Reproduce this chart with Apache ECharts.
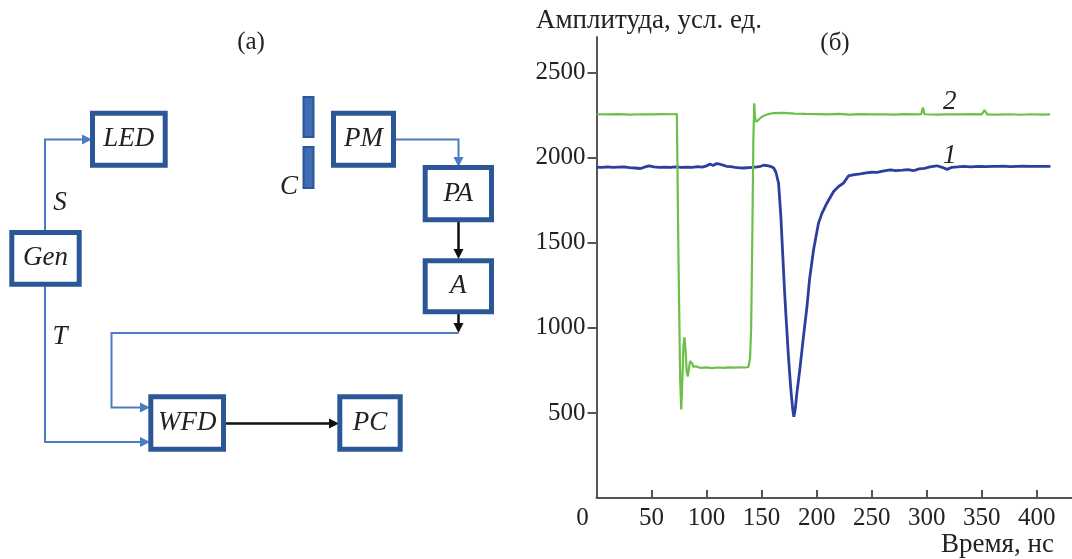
<!DOCTYPE html>
<html>
<head>
<meta charset="utf-8">
<script src="https://cdn.jsdelivr.net/npm/echarts@6/dist/echarts.min.js"></script>
<style>
  html, body { margin: 0; padding: 0; background: #fff; }
  #chart { width: 1072px; height: 559px; }
</style>
</head>
<body>
<div id="chart"></div>
<script>
// curve 1 (blue): time, ns / amplitude
const blueTime = [0, 5, 10, 15, 20, 25, 30, 35, 40, 45, 48, 52, 57, 62, 67, 72, 77, 82, 87, 92, 96, 100, 103, 106, 109, 112, 115, 118, 122, 126, 130, 134, 138, 142, 146, 149, 152, 155, 158, 161, 163, 165.4, 167.5, 169, 170.8, 172, 174.4, 176.6, 178.3, 179.3, 180.5, 182, 185, 188, 191.2, 193.5, 197.2, 201.7, 204.8, 209.3, 215.4, 219.9, 224.4, 229, 233, 239.6, 245, 250, 255, 260, 267, 272, 278, 283, 288, 293, 298, 303, 306, 309.4, 314, 318.5, 323, 328, 333.6, 340, 347, 354, 360, 364, 370, 376, 382, 388, 394, 400, 406, 412.4]
const blueAmp = [1945, 1944, 1946, 1943, 1945, 1947, 1942, 1940, 1937, 1948, 1953, 1947, 1944, 1945, 1943, 1946, 1944, 1945, 1943, 1948, 1945, 1952, 1963, 1955, 1966, 1962, 1957, 1950, 1948, 1944, 1941, 1940, 1942, 1944, 1946, 1950, 1956, 1954, 1950, 1940, 1915, 1851, 1655, 1457, 1224, 1086, 829, 635, 520, 478, 520, 614, 771, 947, 1124, 1282, 1459, 1616, 1673, 1733, 1802, 1831, 1851, 1894, 1900, 1906, 1911, 1915, 1914, 1922, 1929, 1925, 1927, 1930, 1924, 1935, 1938, 1946, 1950, 1953, 1944, 1932, 1944, 1946, 1949, 1947, 1950, 1948, 1950, 1949, 1951, 1948, 1950, 1951, 1949, 1950, 1949, 1950]

// curve 2 (green)
const greenTime = [0, 10, 20, 30, 40, 50, 60, 70, 73, 74.5, 76, 77, 78, 79, 80, 81, 82, 83, 84, 85, 86, 87, 88, 90, 93, 95, 100, 105, 110, 115, 120, 125, 130, 135, 138, 139.5, 140.5, 141.5, 142.5, 143.3, 144, 145, 147, 150, 153, 157, 160, 170, 180, 190, 200, 210, 220, 230, 240, 250, 260, 270, 280, 290, 295, 296.5, 298, 310, 320, 330, 340, 350, 352.5, 355, 365, 375, 385, 395, 405, 412]
const greenAmp = [2256, 2255, 2257, 2254, 2256, 2255, 2257, 2256, 2258, 1400, 700, 520, 700, 900, 945, 860, 740, 715, 760, 805, 812, 790, 770, 775, 768, 765, 768, 764, 767, 765, 768, 766, 768, 767, 770, 820, 1000, 1500, 2100, 2320, 2240, 2212, 2222, 2240, 2250, 2258, 2262, 2264, 2260, 2258, 2257, 2255, 2258, 2254, 2257, 2255, 2256, 2254, 2257, 2255, 2256, 2295, 2256, 2254, 2256, 2255, 2257, 2255, 2280, 2255, 2254, 2256, 2253, 2256, 2254, 2255]

const curveNames = ['1', '2']
const curveLabelAt = [[321, 2010], [321, 2330]]

const serif = '"Liberation Serif", "DejaVu Serif", serif'
const BOX = '#2b5797'
const LINK = '#4a7cc4'
const INK = '#111'

function box(x, y, w, h, label) {
  return [
    { type: 'rect', shape: { x, y, width: w, height: h }, style: { fill: '#fff', stroke: BOX, lineWidth: 5 } },
    { type: 'text', style: { text: label, x: x + w / 2, y: y + h / 2, font: 'italic 27px ' + serif, fill: '#222', align: 'center', verticalAlign: 'middle' } }
  ]
}

// polyline ending in an arrow head
function wire(pts, color, width) {
  const n = pts.length
  const [x1, y1] = pts[n - 2]
  const [x2, y2] = pts[n - 1]
  const len = Math.hypot(x2 - x1, y2 - y1)
  const dx = (x2 - x1) / len
  const dy = (y2 - y1) / len
  const hl = 10
  const hw = 5
  const bx = x2 - dx * hl
  const by = y2 - dy * hl
  const line = pts.slice(0, n - 1).concat([[bx, by]])
  return [
    { type: 'polyline', shape: { points: line }, style: { stroke: color, lineWidth: width, fill: null } },
    { type: 'polygon', shape: { points: [[x2, y2], [bx - dy * hw, by + dx * hw], [bx + dy * hw, by - dx * hw]] }, style: { fill: color } }
  ]
}

function label(text, x, y, size, italic, align) {
  return {
    type: 'text',
    style: { text, x, y, font: (italic ? 'italic ' : '') + size + 'px ' + serif, fill: '#222', align: align || 'center', verticalAlign: 'middle' }
  }
}

const diagram = [].concat(
  wire([[45, 232], [45, 139.5], [92, 139.5]], LINK, 2),
  wire([[45, 285], [45, 442], [150, 442]], LINK, 2),
  wire([[394, 139.5], [458.5, 139.5], [458.5, 167]], LINK, 2),
  wire([[458.5, 220], [458.5, 259]], INK, 2.5),
  wire([[458.5, 312], [458.5, 333]], INK, 2.5),
  wire([[458.5, 333], [111.5, 333], [111.5, 407.5], [150, 407.5]], LINK, 2),
  wire([[224, 423.5], [339, 423.5]], INK, 2.5),
  box(92.5, 113.2, 72.7, 52, 'LED'),
  box(11.8, 232.5, 67.4, 51.7, 'Gen'),
  box(333.5, 113.2, 60, 52, 'PM'),
  box(425.2, 167.5, 66.3, 52.3, 'PA'),
  box(425.2, 260.8, 66.3, 51, 'A'),
  box(150.8, 396.8, 72.7, 52.4, 'WFD'),
  box(339.8, 396.8, 60.4, 52.4, 'PC'),
  [
    { type: 'rect', shape: { x: 303.5, y: 97, width: 10, height: 40 }, style: { fill: '#3f6cb5', stroke: BOX, lineWidth: 2 } },
    { type: 'rect', shape: { x: 303.5, y: 147, width: 10, height: 41 }, style: { fill: '#3f6cb5', stroke: BOX, lineWidth: 2 } },
    label('C', 289, 187, 27, true),
    label('S', 60, 203, 27, true),
    label('T', 60, 337, 27, true),
    label('(a)', 251, 42, 25, false),
    label('(б)', 835, 43, 25, false),
    label('Амплитуда, усл. ед.', 536, 21, 27, false, 'left'),
    label('Время, нс', 941, 545, 27, false, 'left')
  ]
)

const chart = echarts.init(document.getElementById('chart'), null, { renderer: 'canvas' })

const option = {
  animation: false,
  backgroundColor: '#fff',
  grid: { left: 596.5, right: 0, top: 37, bottom: 61, containLabel: false },
  xAxis: {
    type: 'value',
    min: 0,
    max: 432,
    interval: 50,
    axisLine: { lineStyle: { color: '#555', width: 2 } },
    axisTick: { inside: true, length: 8, lineStyle: { color: '#555', width: 2 } },
    splitLine: { show: false },
    axisLabel: {
      margin: 8,
      color: '#222',
      fontFamily: serif,
      fontSize: 25,
      showMaxLabel: false,
      formatter: v => (v === 0 ? '{z|0}' : String(v)),
      rich: { z: { fontFamily: serif, fontSize: 25, color: '#222', padding: [0, 28, 0, 0] } }
    }
  },
  yAxis: {
    type: 'value',
    min: 0,
    max: 2710,
    interval: 500,
    axisLine: { show: true, lineStyle: { color: '#555', width: 2 } },
    axisTick: { show: true, inside: false, length: 9, lineStyle: { color: '#555', width: 2 } },
    splitLine: { show: false },
    axisLabel: {
      showMinLabel: false,
      showMaxLabel: false,
      margin: 11,
      color: '#222',
      fontFamily: serif,
      fontSize: 25,
      formatter: v => String(v)
    }
  },
  series: [
    {
      name: curveNames[0],
      type: 'line',
      showSymbol: false,
      data: blueTime.map((t, i) => [t, blueAmp[i]]),
      lineStyle: { color: '#2b3f9e', width: 2.8 },
      markPoint: {
        symbolSize: 0,
        data: [{ coord: curveLabelAt[0], value: curveNames[0] }],
        label: { show: true, formatter: curveNames[0], fontFamily: serif, fontStyle: 'italic', fontSize: 27, color: '#222' }
      }
    },
    {
      name: curveNames[1],
      type: 'line',
      showSymbol: false,
      data: greenTime.map((t, i) => [t, greenAmp[i]]),
      lineStyle: { color: '#6cc04a', width: 2.2 },
      markPoint: {
        symbolSize: 0,
        data: [{ coord: curveLabelAt[1], value: curveNames[1] }],
        label: { show: true, formatter: curveNames[1], fontFamily: serif, fontStyle: 'italic', fontSize: 27, color: '#222' }
      }
    }
  ],
  graphic: { elements: diagram }
}

chart.setOption(option)
window.addEventListener('resize', () => chart.resize())
</script>
</body>
</html>
